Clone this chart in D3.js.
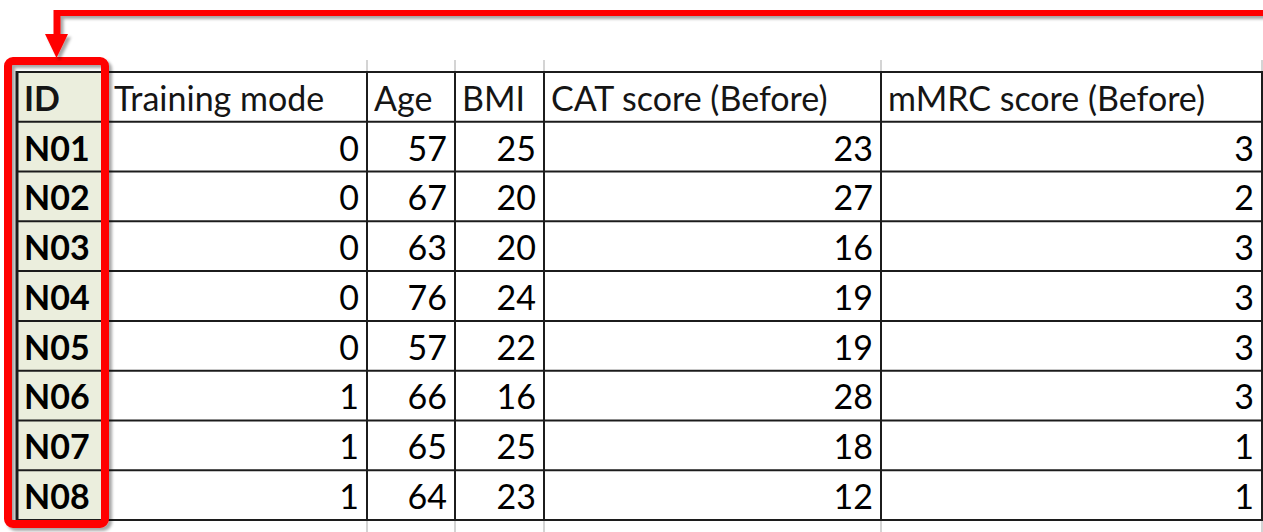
<!DOCTYPE html>
<html lang="en">
<head>
  <meta charset="UTF-8">
  <title>Patient table</title>
  <script src="https://d3js.org/d3.v7.min.js"></script>
  <style>
    body { margin: 0; background: #fff; }
    svg { display: block; }
    .cell text { font-family: Lato, "Open Sans", sans-serif; font-size: 34px; fill: #151515; }
    .hdr { fill: #1e1e2a; }
    .idtxt { font-weight: bold; }
    .grid { stroke: #d4d4d4; stroke-width: 2px; }
    .rule { stroke: #1c1c1c; stroke-width: 2px; }
  </style>
</head>
<body>
  <svg></svg>
  <script>
    const width = 1263;
    const height = 532;

    // table content
    const columns = ["ID", "Training mode", "Age", "BMI", "CAT score (Before)", "mMRC score (Before)"];
    const ids = ["N01", "N02", "N03", "N04", "N05", "N06", "N07", "N08"];
    const trainingMode = [0, 0, 0, 0, 0, 1, 1, 1];
    const age = [57, 67, 63, 76, 57, 66, 65, 64];
    const bmi = [25, 20, 20, 24, 22, 16, 25, 23];
    const catBefore = [23, 27, 16, 19, 19, 28, 18, 12];
    const mmrcBefore = [3, 2, 3, 3, 3, 3, 1, 1];

    const valueCols = [trainingMode, age, bmi, catBefore, mmrcBefore];

    const svg = d3.select("svg")
        .attr("width", width)
        .attr("height", height);

    // column edges (layout only)
    const edges = [17, 106, 367, 455, 544, 881, 1262];
    const colLeft = d3.scaleOrdinal().domain(columns).range(edges.slice(0, -1));
    const colRight = d3.scaleOrdinal().domain(columns).range(edges.slice(1));

    const rows = ["header"].concat(ids);
    const y = d3.scaleBand().domain(rows).range([72, 520]);

    const defs = svg.append("defs");
    const f = defs.append("filter").attr("id", "shadow")
        .attr("x", "-20%").attr("y", "-5%").attr("width", "140%").attr("height", "110%");
    f.append("feDropShadow")
        .attr("dx", 3).attr("dy", 3).attr("stdDeviation", 1.5)
        .attr("flood-color", "#000").attr("flood-opacity", 0.35);

    // faint sheet gridlines outside table
    const g0 = svg.append("g");
    edges.slice(2).forEach(x => {
      g0.append("line").attr("class", "grid")
        .attr("x1", x).attr("x2", x).attr("y1", 60).attr("y2", y.range()[0]);
      g0.append("line").attr("class", "grid")
        .attr("x1", x).attr("x2", x).attr("y1", y.range()[1]).attr("y2", height);
    });

    // ID column fill
    svg.append("rect")
        .attr("x", colLeft("ID"))
        .attr("y", y.range()[0])
        .attr("width", colRight("ID") - colLeft("ID"))
        .attr("height", y.range()[1] - y.range()[0])
        .attr("fill", "#EBEEDD");

    const cells = svg.append("g").attr("class", "cell");

    // header
    cells.selectAll("text.hdr")
      .data(columns)
      .join("text")
        .attr("class", (d, i) => i === 0 ? "hdr idtxt" : "hdr")
        .attr("x", d => colLeft(d) + (d === "Training mode" ? 8 : 7))
        .attr("y", y("header") + y.bandwidth() - 11)
        .text(d => d);

    // ID labels
    cells.selectAll("text.idtxt.row")
      .data(ids)
      .join("text")
        .attr("class", "idtxt row")
        .attr("x", colLeft("ID") + 7)
        .attr("y", d => y(d) + y.bandwidth() - 11)
        .style("fill", "#000")
        .text(d => d);

    // values
    valueCols.forEach((vals, ci) => {
      const col = columns[ci + 1];
      cells.append("g").selectAll("text")
        .data(vals)
        .join("text")
          .attr("x", colRight(col) - 8)
          .attr("y", (d, i) => y(ids[i]) + y.bandwidth() - 11)
          .attr("text-anchor", "end")
          .style("fill", "#000")
          .text(d => d);
    });

    // borders
    const rules = svg.append("g");
    rows.concat([null]).forEach((r, i) => {
      const yy = r === null ? y.range()[1] : y(r);
      rules.append("line").attr("class", "rule")
        .attr("x1", edges[0]).attr("x2", edges[edges.length - 1])
        .attr("y1", yy).attr("y2", yy);
    });
    edges.forEach((x, i) => {
      rules.append("line").attr("class", "rule")
        .attr("x1", x).attr("x2", x)
        .attr("y1", y.range()[0] - 1).attr("y2", y.range()[1] + 1)
        .style("stroke-width", i === 0 ? 3 : 2);
    });

    // red highlight box + arrow
    svg.append("rect")
        .attr("x", 8).attr("y", 61)
        .attr("width", 97).attr("height", 463)
        .attr("rx", 5)
        .attr("fill", "none")
        .attr("stroke", "#FF0000")
        .attr("stroke-width", 8)
        .attr("filter", "url(#shadow)");

    const arrow = svg.append("g").attr("filter", "url(#shadow)");
    arrow.append("path")
        .attr("d", "M1263,12.5 H57 V38")
        .attr("fill", "none")
        .attr("stroke", "#FF0000")
        .attr("stroke-width", 7);
    arrow.append("path")
        .attr("d", "M45,34 L68,34 L56.5,58 Z")
        .attr("fill", "#FF0000");
  </script>
</body>
</html>
